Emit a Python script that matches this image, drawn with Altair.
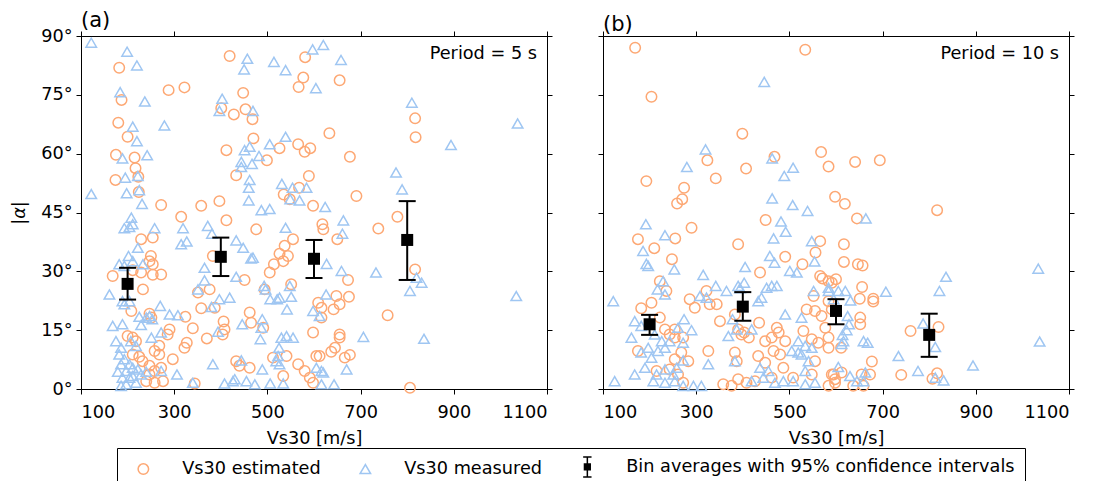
import altair as alt
import pandas as pd

SERIES = ["Vs30 estimated", "Vs30 measured", "Bin averages with 95% confidence intervals"]
COLORS = ["#fda874", "#9fc6f2", "#000000"]
BIN_GLYPH = ("M0,-1.9L0,1.9M-0.8,-1.9L0.8,-1.9M-0.8,1.9L0.8,1.9"
             "M-0.55,-0.55H0.55V0.55H-0.55Z M-0.35,-0.35H0.35V0.35H-0.35Z M-0.15,-0.15H0.15V0.15H-0.15Z")
SHAPES = ["circle", "triangle-up", BIN_GLYPH]

x_ticks = [100, 300, 500, 700, 900, 1100]
y_ticks = [0, 15, 30, 45, 60, 75, 90]

# ---------------- Panel (a): Period = 5 s ----------------
a_estimated = [
    (182, 81.9), (419, 84.9), (581, 84.6), (577, 79.4), (567, 77.0), (187, 73.7), (288, 76.2), (322, 76.9),
    (448, 75.5), (401, 71.6), (428, 70.0), (453, 71.3), (468, 68.8), (180, 67.9), (200, 64.3), (470, 63.9),
    (633, 65.2), (175, 59.7), (215, 59.0), (412, 60.9), (526, 61.4), (566, 62.4), (580, 60.5), (592, 61.4),
    (217, 56.3), (499, 58.3), (174, 53.3), (223, 54.1), (224, 50.2), (433, 54.5), (589, 54.3), (568, 51.3),
    (535, 49.6), (548, 48.4), (272, 46.9), (358, 46.7), (397, 47.9), (598, 46.7),
    (655, 78.7), (817, 69.0), (818, 64.2), (677, 59.2), (691, 49.2),
    (618, 42.0), (620, 40.7), (650, 38.2), (738, 40.9), (779, 43.9), (673, 27.8), (817, 30.5), (648, 23.7),
    (655, 21.6), (642, 20.3), (675, 23.5), (616, 20.7), (616, 18.2), (758, 18.8), (655, 13.9), (655, 13.1),
    (645, 10.5), (637, 9.5), (666, 8.0), (677, 8.7), (806, 0.3), (612, 8.4),
    (315, 43.9), (412, 43.0), (476, 40.7), (229, 38.2), (254, 38.6), (555, 38.2), (537, 36.5), (526, 34.5),
    (250, 33.9), (247, 32.6), (254, 31.8), (544, 33.9), (534, 32.6), (514, 31.8), (505, 29.7), (168, 28.8),
    (229, 29.7), (254, 29.1), (272, 29.2), (211, 30.3), (233, 25.4), (383, 33.9), (376, 25.4), (351, 24.6),
    (451, 27.8), (551, 26.7), (494, 25.4), (358, 20.6), (387, 20.7), (609, 22.0), (247, 19.2), (251, 18.2),
    (324, 18.4), (208, 19.9), (340, 15.5), (406, 17.2), (408, 15.2), (404, 13.9), (462, 19.5), (465, 16.9),
    (491, 15.6), (370, 12.9), (286, 13.9), (290, 15.2), (268, 11.0), (258, 9.7), (268, 8.8), (322, 10.5),
    (327, 11.8), (297, 7.6), (200, 13.5), (211, 13.1), (218, 12.2), (211, 8.8), (225, 8.2), (232, 7.1),
    (247, 5.9), (258, 4.6), (272, 5.4), (276, 2.0), (258, 1.6), (247, 3.7), (240, 2.0), (344, 1.4),
    (433, 7.1), (440, 5.9), (462, 5.4), (534, 3.3), (512, 8.0), (541, 8.4), (566, 6.3), (605, 8.4),
    (598, 14.4), (580, 4.6), (591, 2.9), (598, 1.6),
]
a_measured = [
    (122, 88.3), (199, 86.0), (220, 82.5), (457, 84.2), (450, 81.5), (514, 83.4), (539, 81.3), (597, 86.6),
    (620, 87.7), (604, 76.7), (184, 75.7), (237, 73.3), (403, 74.0), (397, 70.9), (469, 70.9), (211, 66.9),
    (279, 67.2), (220, 63.2), (189, 58.8), (242, 59.6), (451, 60.9), (462, 61.8), (505, 62.4), (539, 64.3),
    (482, 59.4), (444, 57.9), (467, 57.4), (444, 56.6), (195, 53.9), (222, 54.3), (225, 50.7), (198, 49.9),
    (462, 53.3), (460, 51.3), (460, 48.1), (531, 52.3), (554, 51.3), (584, 51.3), (549, 48.4), (569, 48.1),
    (231, 47.2), (624, 46.4), (487, 45.6), (505, 45.9),
    (658, 83.9), (810, 73.0), (894, 62.2), (1037, 67.7), (776, 55.2), (789, 50.9), (122, 49.7),
    (663, 43.0), (661, 39.6), (627, 31.9), (659, 30.1), (733, 29.7), (820, 28.4), (831, 27.1), (806, 25.0),
    (1034, 23.7), (626, 24.1), (706, 13.3), (836, 12.8), (670, 5.0), (620, 4.2), (643, 1.2), (616, 1.2),
    (208, 43.7), (204, 41.3), (211, 42.0), (193, 41.0), (258, 41.0), (319, 41.0), (372, 41.6), (381, 39.6),
    (539, 41.1), (222, 36.0), (315, 36.9), (327, 37.6), (433, 37.9), (448, 36.0), (465, 33.3), (469, 33.5),
    (202, 33.9), (211, 32.6), (182, 31.8), (193, 31.4), (233, 31.8), (161, 24.1), (189, 22.4), (193, 21.6),
    (204, 22.4), (365, 30.9), (365, 27.7), (351, 25.4), (433, 28.6), (493, 26.3), (496, 25.4), (548, 26.3),
    (551, 23.5), (506, 22.9), (521, 22.9), (526, 23.3), (397, 22.9), (419, 23.3), (380, 20.9), (542, 20.3),
    (270, 21.2), (290, 19.0), (308, 18.8), (225, 18.4), (240, 18.2), (247, 18.6), (253, 17.8), (229, 16.3),
    (168, 16.1), (189, 16.5), (446, 16.5), (489, 17.8), (487, 15.6), (485, 12.7), (394, 14.6), (272, 14.4),
    (251, 13.1), (175, 12.2), (186, 10.5), (207, 12.2), (218, 11.0), (182, 8.8), (193, 7.6), (186, 6.3),
    (204, 6.3), (211, 5.4), (222, 5.0), (197, 4.6), (179, 4.4), (229, 3.7), (240, 4.4), (211, 3.3),
    (204, 2.9), (189, 2.9), (218, 1.6), (197, 1.2), (186, 0.8), (272, 4.6), (306, 3.7), (340, 1.6),
    (383, 6.3), (444, 7.3), (489, 5.0), (408, 1.4), (426, 2.0), (430, 2.5), (455, 2.0), (473, 1.2),
    (506, 1.4), (534, 1.4), (530, 13.1), (541, 13.5), (555, 13.1), (525, 10.5), (523, 8.4), (519, 7.1),
    (526, 6.3), (598, 19.9), (612, 18.6), (605, 5.4), (616, 4.6),
]
a_bin_vs = [200, 400, 600, 800]
a_bin_mean = [26.8, 33.7, 33.2, 38.0]
a_bin_lo = [22.8, 28.8, 28.3, 27.8]
a_bin_hi = [30.9, 38.6, 38.0, 47.9]

# ---------------- Panel (b): Period = 10 s ----------------
b_estimated = [
    (169, 87.0), (534, 86.5), (204, 74.5), (399, 65.1), (324, 58.3), (407, 56.2), (568, 60.4), (584, 56.7),
    (468, 59.2), (193, 53.0), (342, 53.7), (274, 51.3), (270, 48.4), (259, 47.3), (598, 49.0),
    (449, 43.1), (290, 41.1), (175, 38.2), (210, 35.9), (255, 38.4), (390, 36.9), (566, 37.7), (556, 34.8),
    (491, 33.7), (528, 31.8), (248, 33.1), (437, 29.7), (566, 28.8), (571, 28.2), (584, 27.5), (600, 28.0),
    (222, 27.5), (236, 25.0), (204, 22.0), (182, 20.6), (286, 22.9), (297, 20.7), (322, 25.0), (344, 21.6),
    (329, 21.6), (351, 17.3), (383, 19.0), (435, 16.9), (403, 14.4), (413, 13.1), (390, 15.2), (397, 13.9),
    (272, 13.1), (254, 13.1), (243, 13.9), (175, 9.7), (233, 15.2), (222, 18.2), (254, 15.2), (215, 4.6),
    (243, 5.0), (261, 3.7), (272, 1.6), (254, 7.6), (268, 9.3), (283, 7.1), (326, 9.7), (383, 9.3),
    (387, 7.1), (358, 1.2), (376, 0.8), (390, 2.5), (408, 1.6), (426, 2.0), (433, 8.4), (448, 12.2),
    (466, 9.7), (480, 8.8), (462, 13.1), (491, 12.2), (473, 15.6), (477, 14.4), (487, 5.4), (448, 6.7),
    (462, 2.9), (508, 2.9), (530, 14.8), (548, 12.7), (562, 11.8), (584, 10.5), (591, 3.7), (598, 2.5),
    (555, 7.1), (548, 3.7), (537, 20.3), (555, 19.9), (569, 18.6), (577, 15.6), (552, 23.7), (591, 20.3),
    (584, 22.4),
    (641, 57.9), (694, 58.3), (619, 47.2), (645, 43.5), (817, 45.6), (617, 36.9), (617, 32.4), (647, 31.8),
    (657, 31.5), (591, 27.1), (656, 26.0), (651, 23.0), (680, 23.0), (680, 22.3), (652, 18.2), (652, 16.5),
    (584, 13.1), (611, 10.5), (760, 14.8), (820, 15.8), (677, 7.0), (740, 3.6), (817, 4.0), (807, 2.6),
    (595, 3.7), (612, 4.2), (655, 3.7), (673, 3.7), (598, 1.6), (637, 0.8), (659, 0.8), (584, 0.8),
]
b_measured = [
    (446, 78.3), (320, 61.1), (463, 58.8), (508, 56.4), (489, 54.3), (280, 56.6), (463, 48.6), (507, 46.9),
    (539, 45.4),
    (482, 42.7), (492, 40.1), (192, 42.0), (233, 39.2), (186, 35.2), (466, 38.4), (548, 37.7), (458, 33.9),
    (468, 32.2), (554, 32.5), (193, 31.9), (197, 31.4), (253, 30.5), (315, 29.1), (405, 31.1), (501, 30.1),
    (516, 29.7), (229, 27.5), (217, 25.4), (233, 24.1), (342, 26.3), (365, 25.0), (308, 23.7), (322, 23.3),
    (390, 26.3), (403, 27.1), (394, 25.7), (451, 25.8), (462, 26.3), (473, 26.3), (440, 23.3), (433, 22.4),
    (491, 19.0), (526, 18.2), (378, 17.8), (387, 15.2), (369, 13.5), (419, 15.2), (274, 17.8), (290, 15.0),
    (272, 11.8), (161, 13.1), (182, 16.1), (168, 17.3), (122, 22.4), (125, 2.0), (168, 3.7), (190, 5.4),
    (204, 8.0), (218, 9.7), (197, 10.5), (182, 9.3), (208, 2.0), (233, 1.6), (254, 2.0), (272, 0.8),
    (294, 0.8), (311, 0.8), (215, 3.7), (233, 5.0), (251, 3.7), (272, 7.3), (258, 5.4), (233, 10.5),
    (243, 12.2), (261, 15.6), (211, 13.9), (226, 12.2), (326, 6.3), (383, 7.1), (419, 2.0), (437, 5.4),
    (455, 4.6), (444, 2.9), (469, 1.6), (487, 2.0), (508, 2.0), (519, 12.2), (534, 11.0), (526, 8.8),
    (541, 7.1), (548, 10.5), (534, 4.6), (555, 1.6), (534, 1.2), (552, 25.0), (584, 25.0), (595, 22.9),
    (519, 9.3), (505, 9.7),
    (664, 43.5), (584, 25.8), (605, 25.0), (620, 25.0), (707, 24.8), (836, 28.6), (822, 25.0), (1034, 30.7),
    (631, 22.6), (625, 18.6), (628, 16.5), (623, 15.0), (614, 13.8), (616, 12.2), (612, 11.5), (659, 12.2),
    (668, 11.8), (734, 8.4), (787, 16.7), (813, 10.7), (1037, 12.1), (894, 6.0), (776, 4.6), (831, 2.2),
    (813, 2.9), (605, 5.6), (630, 3.3), (645, 2.0), (659, 2.0), (663, 4.2),
]
b_bin_vs = [200, 400, 600, 800]
b_bin_mean = [16.5, 21.0, 19.9, 13.8]
b_bin_lo = [13.8, 17.4, 16.5, 8.2]
b_bin_hi = [18.9, 24.7, 22.9, 19.2]

W, H = 466, 353
FONT = "DejaVu Sans"
FS = 17.7


def make_panel(est, meas, bvs, bmean, blo, bhi, letter, period, first):
    pts = pd.DataFrame(
        [{"vs": v, "alpha": a, "series": SERIES[0]} for v, a in est]
        + [{"vs": v, "alpha": a, "series": SERIES[1]} for v, a in meas]
    )
    bins = pd.DataFrame({"vs": bvs, "mean": bmean, "lo": blo, "hi": bhi})
    xs = alt.Scale(domain=[100, 1100], nice=False, zero=False)
    ys = alt.Scale(domain=[0, 90], nice=False, zero=False)

    if first:
        yaxis = alt.Axis(values=y_ticks, labelExpr="datum.value + '°'", title="|α|",
                         titleFontStyle="italic", titlePadding=12)
        legend = alt.Legend(
            orient="none", legendX=36, legendY=412, direction="horizontal", columns=3,
            title=None, labelFont=FONT, labelFontSize=FS, labelColor="black", labelLimit=600,
            strokeColor="black", padding=10, columnPadding=28, labelOffset=30,
            symbolSize=110, symbolStrokeWidth=1.5, symbolOffset=7.5,
        )
    else:
        yaxis = alt.Axis(values=y_ticks, labels=False, title=None)
        legend = None

    xaxis = alt.Axis(values=x_ticks, format="d", title="Vs30 [m/s]", labelPadding=9, titlePadding=9)

    scatter = alt.Chart(pts).mark_point(filled=False, size=110, strokeWidth=1.5, opacity=1).encode(
        x=alt.X("vs:Q", scale=xs, axis=xaxis),
        y=alt.Y("alpha:Q", scale=ys, axis=yaxis),
        color=alt.Color("series:N", scale=alt.Scale(domain=SERIES, range=COLORS), legend=legend),
        shape=alt.Shape("series:N", scale=alt.Scale(domain=SERIES, range=SHAPES), legend=legend),
    )
    frame = alt.Chart(pts).mark_point(opacity=0).encode(
        x=alt.X("vs:Q", scale=xs, axis=alt.Axis(orient="top", values=x_ticks, labels=False, title=None)),
        y=alt.Y("alpha:Q", scale=ys, axis=alt.Axis(orient="right", values=y_ticks, labels=False, title=None)),
    )
    rules = alt.Chart(bins).mark_rule(color="black", strokeWidth=2).encode(
        x=alt.X("vs:Q", scale=xs, axis=None),
        y=alt.Y("lo:Q", scale=ys, axis=None),
        y2="hi:Q",
    )
    cap_lo = alt.Chart(bins).mark_tick(color="black", orient="horizontal", size=17, thickness=2, opacity=1).encode(
        x=alt.X("vs:Q", scale=xs, axis=None),
        y=alt.Y("lo:Q", scale=ys, axis=None),
    )
    cap_hi = alt.Chart(bins).mark_tick(color="black", orient="horizontal", size=17, thickness=2, opacity=1).encode(
        x=alt.X("vs:Q", scale=xs, axis=None),
        y=alt.Y("hi:Q", scale=ys, axis=None),
    )
    squares = alt.Chart(bins).mark_square(color="black", size=144, opacity=1, filled=True).encode(
        x=alt.X("vs:Q", scale=xs, axis=None),
        y=alt.Y("mean:Q", scale=ys, axis=None),
    )
    label = alt.Chart(pd.DataFrame({"t": [period]})).mark_text(
        align="right", baseline="middle", font=FONT, fontSize=FS, color="black"
    ).encode(x=alt.value(W - 10), y=alt.value(18), text="t:N")

    return alt.layer(scatter, frame, rules, cap_lo, cap_hi, squares, label).resolve_axis(
        x="independent", y="independent"
    ).properties(
        width=W, height=H,
        title=alt.TitleParams(letter, anchor="start", frame="group", fontSize=21,
                              fontWeight="normal", font=FONT, color="black", offset=-4),
    )


pa = make_panel(a_estimated, a_measured, a_bin_vs, a_bin_mean, a_bin_lo, a_bin_hi, "(a)", "Period = 5 s", True)
pb = make_panel(b_estimated, b_measured, b_bin_vs, b_bin_mean, b_bin_lo, b_bin_hi, "(b)", "Period = 10 s", False)

chart = alt.hconcat(pa, pb, spacing=56, bounds="flush").resolve_scale(
    color="independent", shape="independent"
).properties(
    padding={"left": 2, "top": 1, "right": 0, "bottom": 0}
).configure_view(
    stroke="black", strokeWidth=1
).configure_axis(
    labelFont=FONT, labelFontSize=FS, labelColor="black",
    titleFont=FONT, titleFontSize=FS, titleFontWeight="normal", titleColor="black",
    tickColor="black", tickSize=5, tickWidth=1, domainColor="black", domainWidth=1,
    labelPadding=4, grid=False,
)

chart.save("out.html", embed_options={"renderer": "svg", "actions": False})
